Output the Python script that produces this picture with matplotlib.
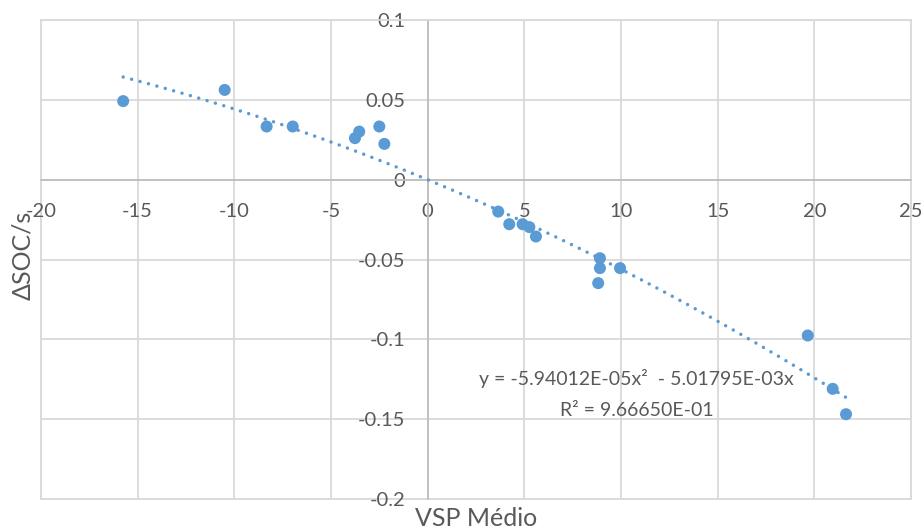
import numpy as np
import matplotlib
matplotlib.use("Agg")
import matplotlib.pyplot as plt

plt.rcParams['font.family'] = ['Lato', 'DejaVu Sans']

# VSP médio vs variação de SOC por segundo
vsp = [-15.75, -10.50, -8.33, -6.98, -3.76, -3.54, -2.50, -2.24,
       3.65, 4.22, 4.91, 5.26, 5.60, 8.91, 8.91, 8.82, 9.95,
       19.66, 20.95, 21.64]
dsoc = [0.0492, 0.0562, 0.0333, 0.0333, 0.0260, 0.0301, 0.0333, 0.0224,
        -0.0200, -0.0279, -0.0279, -0.0297, -0.0356, -0.0492, -0.0554, -0.0648, -0.0554,
        -0.0976, -0.1310, -0.1469]

# polinômio de 2ª ordem com intercepto zero
a2 = -5.94012e-05
a1 = -5.01795e-03
r2 = 9.66650e-01

x_ticks = [-20, -15, -10, -5, 0, 5, 10, 15, 20, 25]
x_labels = ['-20', '-15', '-10', '-5', '0', '5', '10', '15', '20', '25']
y_ticks = [0.1, 0.05, 0, -0.05, -0.1, -0.15, -0.2]
y_labels = ['0.1', '0.05', '0', '-0.05', '-0.1', '-0.15', '-0.2']

blue = '#5B9BD5'
grid_c = '#D9D9D9'
axis_c = '#BFBFBF'
txt_c = '#595959'

fig = plt.figure(figsize=(9.23, 5.31), dpi=100)
ax = fig.add_axes([41 / 923, 1 - 499 / 531, 870 / 923, 479 / 531])

ax.scatter(vsp, dsoc, s=75, color=blue, edgecolors='none', zorder=3)

xf = np.linspace(min(vsp), max(vsp), 200)
ax.plot(xf, a2 * xf**2 + a1 * xf, color=blue, lw=2.5,
        dashes=(0.01, 2.5), dash_capstyle='round', zorder=4)

ax.set_xlim(-20, 25)
ax.set_ylim(-0.2, 0.1)
ax.set_xticks(x_ticks)
ax.set_xticklabels(x_labels)
ax.set_yticks(y_ticks)
ax.set_yticklabels(y_labels)
ax.grid(True, color=grid_c, lw=1.3, zorder=0)
ax.axvline(-20, color=grid_c, lw=1.3, clip_on=False, zorder=0)
ax.axhline(-0.2, color=grid_c, lw=1.3, clip_on=False, zorder=0)

# eixos cruzando em zero
ax.spines['left'].set_position(('data', 0))
ax.spines['bottom'].set_position(('data', 0))
for s in ['left', 'bottom']:
    ax.spines[s].set_color(axis_c)
    ax.spines[s].set_linewidth(1.3)
for s in ['top', 'right']:
    ax.spines[s].set_color(grid_c)
    ax.spines[s].set_linewidth(1.3)
ax.tick_params(axis='x', length=0, pad=17, labelsize=14.5, labelcolor=txt_c)
ax.tick_params(axis='y', length=0, pad=16, labelsize=14.5, labelcolor=txt_c)

ax.text(10.8, -0.1245, 'y = -5.94012E-05x\u00b2  - 5.01795E-03x', ha='center', va='center',
        fontsize=14, color=txt_c)
ax.text(10.8, -0.1445, 'R\u00b2 = 9.66650E-01', ha='center', va='center',
        fontsize=14, color=txt_c)

fig.text(476 / 923, 1 - 519 / 531, 'VSP Médio', ha='center', va='center',
         fontsize=18, color=txt_c)
fig.text(23 / 923, 1 - 255 / 531, '\u0394SOC/s', ha='center', va='center',
         rotation=90, fontsize=18, color=txt_c)

fig.savefig('out.png', dpi=100, facecolor='white')
